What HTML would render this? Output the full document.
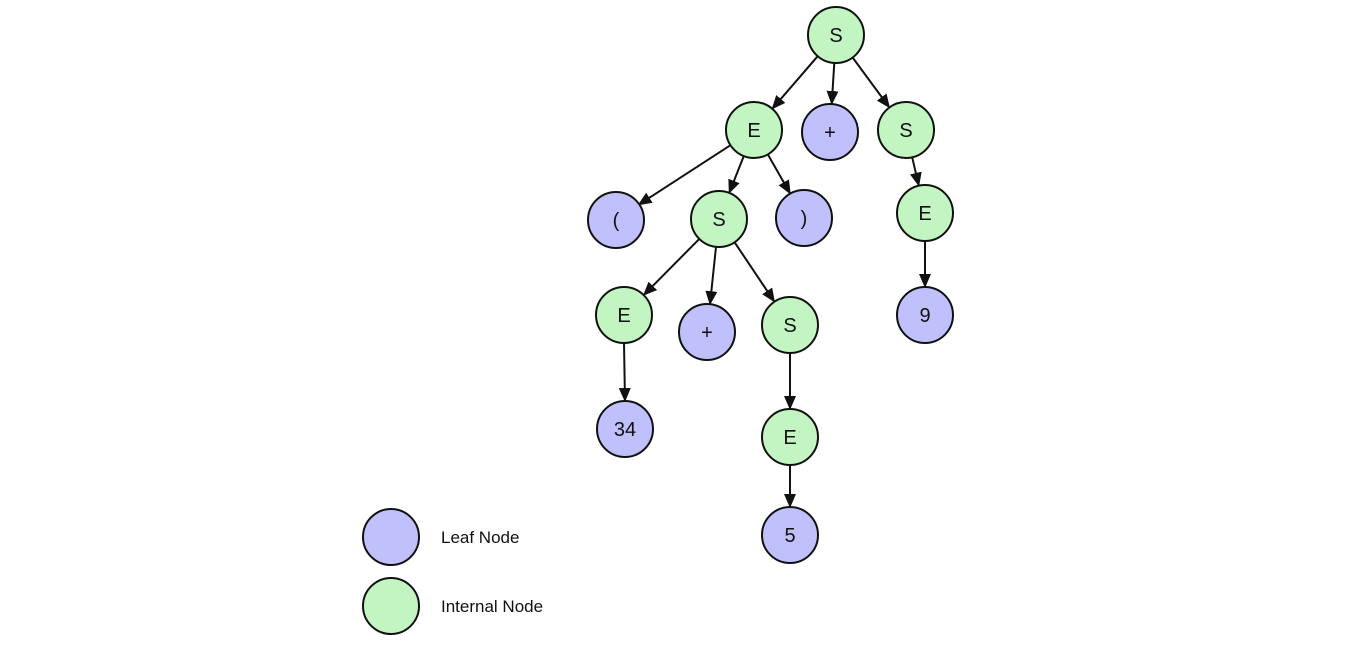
<!DOCTYPE html>
<html><head><meta charset="utf-8"><style>
html,body{margin:0;padding:0;background:#fff;}
svg{display:block;}
text{font-family:"Liberation Sans",sans-serif;font-size:20px;fill:#111;}
.g{fill:#c2f5c2;stroke:#111;stroke-width:2;}
.b{fill:#c0c0fc;stroke:#111;stroke-width:2;}
line{stroke:#111;stroke-width:2;}
</style></head><body>
<svg width="1365" height="651" viewBox="0 0 1365 651">
<defs><marker id="a" markerWidth="14" markerHeight="14" refX="13" refY="6" orient="auto" markerUnits="userSpaceOnUse" viewBox="0 0 14 12"><path d="M0,0 L14,6 L0,12 z" fill="#111"/></marker></defs>
<g>
<line x1="817.7" y1="56.2" x2="772.3" y2="108.8" marker-end="url(#a)"/>
<line x1="834.3" y1="63" x2="831.7" y2="104" marker-end="url(#a)"/>
<line x1="852.6" y1="57.5" x2="889.4" y2="107.5" marker-end="url(#a)"/>
<line x1="730.5" y1="145.2" x2="638.5" y2="204.8" marker-end="url(#a)"/>
<line x1="743.8" y1="156" x2="729.2" y2="193" marker-end="url(#a)"/>
<line x1="767.8" y1="154.4" x2="790.2" y2="193.6" marker-end="url(#a)"/>
<line x1="912.2" y1="157.3" x2="918.8" y2="185.7" marker-end="url(#a)"/>
<line x1="699.3" y1="238.9" x2="643.7" y2="295.1" marker-end="url(#a)"/>
<line x1="716" y1="246.8" x2="710" y2="304.2" marker-end="url(#a)"/>
<line x1="734.6" y1="242.3" x2="774.4" y2="301.7" marker-end="url(#a)"/>
<line x1="925" y1="241" x2="925" y2="287" marker-end="url(#a)"/>
<line x1="624" y1="343" x2="625" y2="401" marker-end="url(#a)"/>
<line x1="790" y1="353" x2="790" y2="409" marker-end="url(#a)"/>
<line x1="790" y1="465" x2="790" y2="507" marker-end="url(#a)"/>
</g>
<g text-anchor="middle">
<circle class="g" cx="836" cy="35" r="28"/><text x="836" y="42">S</text>
<circle class="g" cx="754" cy="130" r="28"/><text x="754" y="137">E</text>
<circle class="b" cx="830" cy="132" r="28"/><text x="830" y="139">+</text>
<circle class="g" cx="906" cy="130" r="28"/><text x="906" y="137">S</text>
<circle class="b" cx="616" cy="220" r="28"/><text x="616" y="227">(</text>
<circle class="g" cx="719" cy="219" r="28"/><text x="719" y="226">S</text>
<circle class="b" cx="804" cy="218" r="28"/><text x="804" y="225">)</text>
<circle class="g" cx="925" cy="213" r="28"/><text x="925" y="220">E</text>
<circle class="g" cx="624" cy="315" r="28"/><text x="624" y="322">E</text>
<circle class="b" cx="707" cy="332" r="28"/><text x="707" y="339">+</text>
<circle class="g" cx="790" cy="325" r="28"/><text x="790" y="332">S</text>
<circle class="b" cx="925" cy="315" r="28"/><text x="925" y="322">9</text>
<circle class="b" cx="625" cy="429" r="28"/><text x="625" y="436">34</text>
<circle class="g" cx="790" cy="437" r="28"/><text x="790" y="444">E</text>
<circle class="b" cx="790" cy="535" r="28"/><text x="790" y="542">5</text>
<circle class="b" cx="391" cy="537" r="28"/>
<circle class="g" cx="391" cy="606" r="28"/>
</g>
<text x="441" y="543" style="font-size:17px">Leaf Node</text>
<text x="441" y="612" style="font-size:17px">Internal Node</text>
</svg>
</body></html>
